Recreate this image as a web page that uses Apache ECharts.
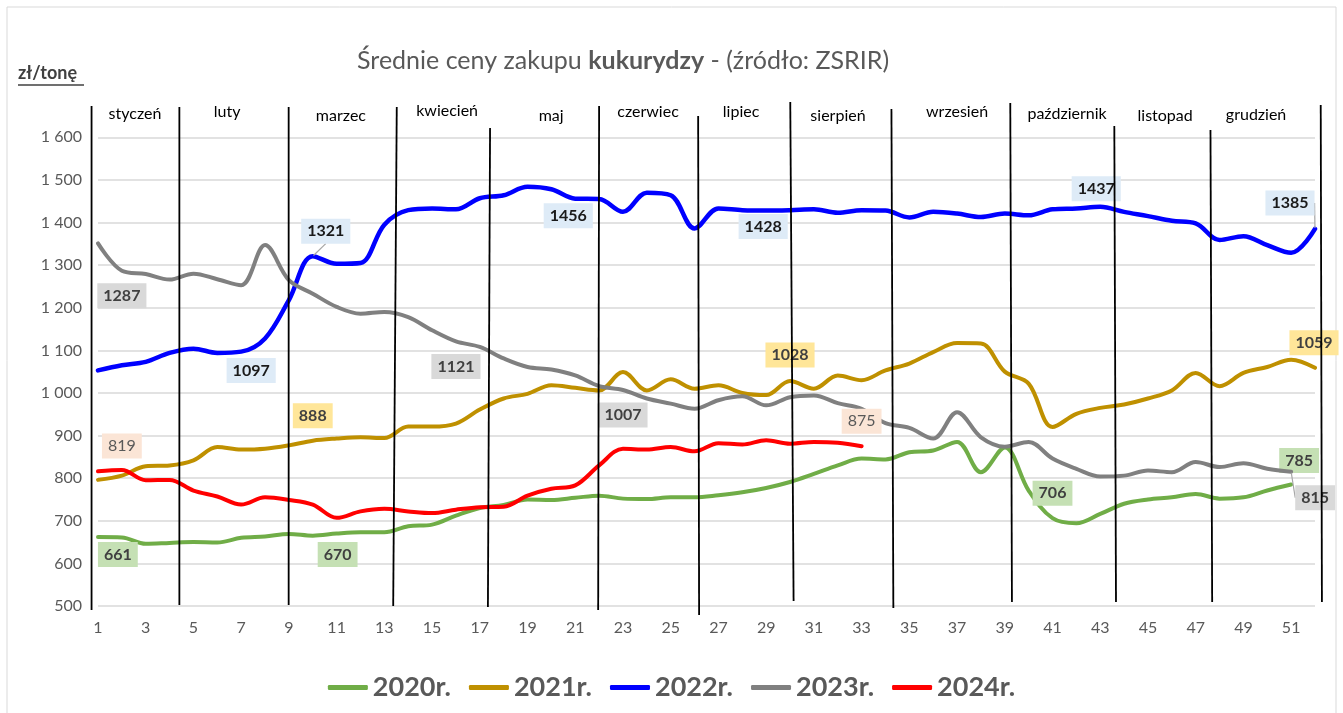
<!DOCTYPE html>
<html>
<head>
<meta charset="utf-8">
<script src="https://cdn.jsdelivr.net/npm/echarts@6/dist/echarts.min.js"></script>
<style>
  html, body { margin: 0; padding: 0; background: #fff; }
  #chart { width: 1343px; height: 713px; }
</style>
</head>
<body>
<div id="chart"></div>
<script>
// tydzień roku
const weeks = Array.from({ length: 52 }, (_, i) => String(i + 1));

// średnie ceny kukurydzy, zł/tonę
const price2020 = [662, 661, 646, 648, 650, 649, 660, 663, 669, 665, 670, 673, 673, 687, 691, 712, 730, 737, 750, 749,
  754, 759, 752, 751, 755, 755, 760, 767, 777, 791, 810, 830, 846, 844, 861, 865, 885, 814, 872, 771,
  706, 694, 716, 740, 750, 755, 763, 752, 755, 771, 785];
const price2021 = [796, 806, 828, 830, 842, 873, 867, 869, 877, 888, 893, 896, 894, 921, 921, 928, 961, 987, 998, 1018,
  1012, 1006, 1049, 1006, 1032, 1010, 1018, 1000, 995, 1028, 1010, 1041, 1030, 1053, 1069, 1096, 1117, 1116, 1050, 1022,
  920, 951, 965, 973, 987, 1006, 1047, 1016, 1047, 1061, 1078, 1059];
const price2022 = [1053, 1065, 1073, 1094, 1104, 1094, 1097, 1128, 1218, 1321, 1303, 1305, 1395, 1429, 1433, 1431, 1457, 1464, 1484, 1478,
  1456, 1455, 1425, 1470, 1464, 1386, 1433, 1429, 1428, 1429, 1431, 1423, 1429, 1428, 1412, 1425, 1421, 1413, 1421, 1417,
  1431, 1433, 1437, 1425, 1415, 1404, 1398, 1359, 1368, 1347, 1329, 1385];
const price2023 = [1351, 1287, 1279, 1266, 1280, 1267, 1253, 1347, 1265, 1233, 1202, 1186, 1190, 1178, 1147, 1121, 1108, 1081, 1061, 1055,
  1041, 1016, 1007, 987, 975, 963, 983, 992, 971, 990, 994, 976, 963, 929, 918, 893, 955, 896, 874, 885,
  846, 822, 804, 806, 818, 814, 838, 826, 835, 822, 815];
const price2024 = [816, 819, 795, 796, 771, 757, 738, 755, 749, 738, 707, 722, 728, 722, 718, 726, 732, 733, 759, 775,
  783, 830, 869, 867, 873, 863, 882, 879, 889, 881, 885, 883, 875];

const yearNames = ['2020r.', '2021r.', '2022r.', '2023r.', '2024r.'];
const months = ['styczeń', 'luty', 'marzec', 'kwiecień', 'maj', 'czerwiec', 'lipiec', 'sierpień',
  'wrzesień', 'październik', 'listopad', 'grudzień'];
// granice miesięcy w jednostkach tygodnia (góra / dół odręcznych kresek)
const monthEdgeTop = [0.73, 4.41, 8.99, 13.52, 17.43, 22.0, 26.15, 30.01, 34.25, 39.23, 43.59, 47.62, 52.24];
const monthEdgeBottom = [0.73, 4.41, 8.99, 13.37, 17.34, 21.96, 26.19, 30.15, 34.33, 39.3, 43.66, 47.69, 52.29];
const monthCenter = [2.55, 6.41, 11.18, 15.63, 19.99, 24.05, 27.95, 32.01, 37.0, 41.61, 45.72, 49.53];

// layout
const FONT = 'Lato, "Noto Sans", sans-serif';
const lineTopPx = [106, 107, 107, 107, 128, 106, 116, 102, 109, 103, 126, 130, 105];
const lineBottomPx = [610, 605, 605, 606, 607, 610, 615, 601, 608, 602, 602, 602, 602];
const monthLabelTop = [106, 104, 108, 103, 108, 104, 104, 108, 104, 106, 108, 107];

// etykiety danych: indeks punktu i przesunięcie środka etykiety
const spots = [
  [{ i: 1, dx: -4, dy: 17 }, { i: 10, dx: 1, dy: 21 }, { i: 40, dx: 0, dy: -25 }, { i: 50, dx: 8, dy: -24 }],
  [{ i: 9, dx: 0, dy: -25 }, { i: 29, dx: 0, dy: -26 }, { i: 51, dx: -1, dy: -25 }],
  [{ i: 6, dx: 10, dy: 19 }, { i: 9, dx: 13, dy: -25, line: true }, { i: 20, dx: -7, dy: 17 }, { i: 28, dx: -3, dy: 16 },
   { i: 42, dx: -4, dy: -18 }, { i: 51, dx: -25, dy: -26, line: true }],
  [{ i: 1, dx: 0, dy: 25 }, { i: 15, dx: 0, dy: 25 }, { i: 22, dx: 0, dy: 25 }, { i: 50, dx: 24, dy: 26, line: true }],
  [{ i: 1, dx: 0, dy: -24 }, { i: 32, dx: 0, dy: -25 }]
];

const styles = [
  { color: '#70ad47', width: 4, bg: '#c5e0b4', text: '#404040', weight: 'bold' },
  { color: '#bf9000', width: 4, bg: '#ffe699', text: '#404040', weight: 'bold' },
  { color: '#0000ff', width: 4.5, bg: '#deebf7', text: '#1a1a1a', weight: 'bold' },
  { color: '#808080', width: 4, bg: '#d9d9d9', text: '#404040', weight: 'bold' },
  { color: '#ff0000', width: 4, bg: '#fbe5d6', text: '#595959', weight: 'normal' }
];

const values = [price2020, price2021, price2022, price2023, price2024];

function buildData(vals, sp) {
  return vals.map((v, i) => {
    const s = sp.find(p => p.i === i);
    if (!s) return v;
    const item = { value: v, label: { show: true } };
    if (s.line) item.labelLine = { show: true };
    return item;
  });
}

function spaced(v) {
  return String(v).replace(/\B(?=(\d{3})+(?!\d))/g, ' ');
}

const chartDom = document.getElementById('chart');
const myChart = echarts.init(chartDom);

myChart.setOption({
  animation: false,
  title: {
    text: '{n|Średnie ceny zakupu }{b|kukurydzy}{n| - (źródło: ZSRIR)}',
    left: 352,
    top: 43,
    textStyle: {
      fontWeight: 'normal',
      rich: {
        n: { fontSize: 25, color: '#595959', fontFamily: FONT, fontWeight: 'normal' },
        b: { fontSize: 25, color: '#595959', fontFamily: FONT, fontWeight: 'bold' }
      }
    }
  },
  legend: {
    data: yearNames.map((n, k) => ({ name: n, itemStyle: { color: styles[k].color } })),
    left: 'center',
    top: 669,
    icon: 'roundRect',
    itemWidth: 40,
    itemHeight: 5,
    itemGap: 18,
    textStyle: { fontSize: 27, fontWeight: 'bold', color: '#595959', fontFamily: FONT }
  },
  grid: {
    left: 98,
    right: 28,
    top: 137.3,
    bottom: 107,
    outerBoundsMode: 'none'
  },
  xAxis: [
    {
      type: 'category',
      data: weeks,
      boundaryGap: false,
      axisLine: { show: false },
      axisTick: { show: false },
      axisLabel: { interval: 1, color: '#595959', fontSize: 16, fontFamily: FONT, margin: 14 }
    },
    {
      type: 'value',
      min: 1,
      max: 52,
      show: false
    }
  ],
  yAxis: {
    type: 'value',
    min: 500,
    max: 1600,
    interval: 100,
    axisLine: { show: false },
    axisTick: { show: false },
    axisLabel: { color: '#595959', fontSize: 16, fontFamily: FONT, margin: 16, formatter: spaced },
    splitLine: { lineStyle: { color: '#d9d9d9', width: 1.5 } }
  },
  series: yearNames.map((n, k) => ({
    name: n,
    type: 'line',
    smooth: 0.35,
    symbol: 'circle',
    symbolSize: 2,
    showSymbol: true,
    showAllSymbol: true,
    z: k === 4 ? 6 : 2 + k,
    lineStyle: { color: styles[k].color, width: styles[k].width, cap: 'round', join: 'round' },
    itemStyle: { color: 'rgba(0,0,0,0)', borderWidth: 0 },
    emphasis: { disabled: true },
    label: {
      show: false,
      position: 'inside',
      backgroundColor: styles[k].bg,
      color: styles[k].text,
      fontWeight: styles[k].weight,
      fontSize: 16,
      fontFamily: FONT,
      padding: [5, 6, 4, 6]
    },
    labelLine: { show: false, lineStyle: { color: '#a6a6a6', width: 1.2 } },
    labelLayout: (p) => {
      const s = spots[k].find(x => x.i === p.dataIndex);
      return s ? { dx: s.dx, dy: s.dy } : {};
    },
    data: buildData(values[k], spots[k])
  }))
});

// odręczne kreski miesięcy, nazwy miesięcy, jednostka, ramka
const graphics = [];
graphics.push({
  type: 'rect',
  shape: { x: 7, y: 7, width: 1329, height: 720 },
  style: { fill: 'none', stroke: '#d9d9d9', lineWidth: 1 },
  silent: true
});
monthEdgeTop.forEach((w, i) => {
  const x1 = myChart.convertToPixel({ xAxisIndex: 1 }, w);
  const x2 = myChart.convertToPixel({ xAxisIndex: 1 }, monthEdgeBottom[i]);
  graphics.push({
    type: 'line',
    shape: { x1: x1, y1: lineTopPx[i], x2: x2, y2: lineBottomPx[i] },
    style: { stroke: '#000', lineWidth: 1.8 },
    z: 10,
    silent: true
  });
});
months.forEach((m, i) => {
  const cx = myChart.convertToPixel({ xAxisIndex: 1 }, monthCenter[i]);
  graphics.push({
    type: 'text',
    x: cx,
    y: monthLabelTop[i],
    style: { text: m, fill: '#000', font: '16px ' + FONT, textAlign: 'center', textVerticalAlign: 'top' },
    z: 10,
    silent: true
  });
});
graphics.push({
  type: 'text',
  x: 18,
  y: 64,
  style: { text: 'zł/tonę', fill: '#404040', font: 'bold 18px ' + FONT, textAlign: 'left', textVerticalAlign: 'top' },
  silent: true
});
graphics.push({
  type: 'line',
  shape: { x1: 18, y1: 85, x2: 84, y2: 85 },
  style: { stroke: '#404040', lineWidth: 1.5 },
  silent: true
});
myChart.setOption({ graphic: graphics });
</script>
</body>
</html>
